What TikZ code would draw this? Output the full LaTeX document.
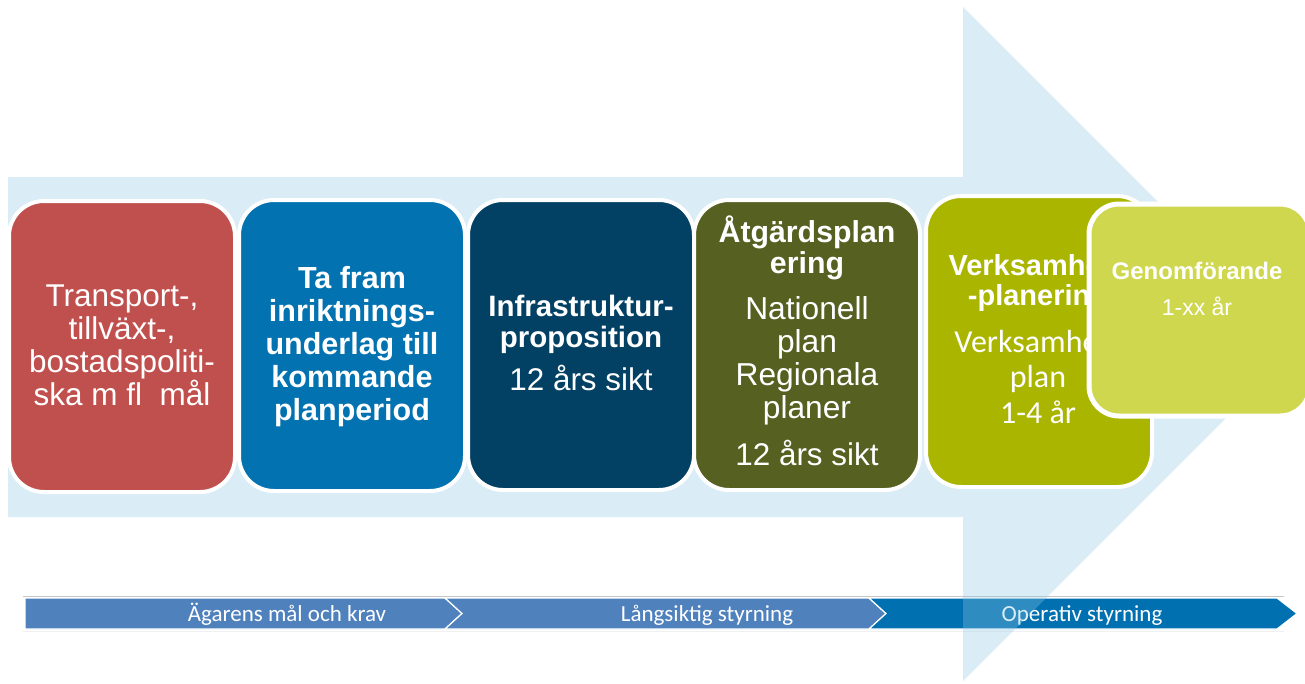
\documentclass[tikz,border=0pt]{standalone}
\usepackage{fontspec}
\setmainfont{Liberation Sans}
\newfontfamily\calib{Carlito}
\definecolor{arrowc}{RGB}{143,200,230}
\definecolor{cred}{RGB}{192,80,77}
\definecolor{cblue}{RGB}{3,114,176}
\definecolor{cnavy}{RGB}{2,64,100}
\definecolor{colive}{RGB}{85,96,33}
\definecolor{cgreen}{RGB}{170,181,0}
\definecolor{clime}{RGB}{207,215,79}
\definecolor{chevA}{RGB}{79,129,189}
\definecolor{chevB}{RGB}{0,112,176}
\begin{document}
\begin{tikzpicture}[x=1pt,y=-1pt,
  box/.style={draw=white, line width=4pt, rounded corners=35pt, inner sep=0pt, outer sep=0pt},
  lbl/.style={text=white, anchor=base, align=center, inner sep=0pt},
  chev/.style={draw=white, line width=1.2pt, line join=miter},
  chevtext/.style={text=white, anchor=base, inner sep=0pt, font=\calib\fontsize{23}{26}\selectfont}]
\useasboundingbox (0,0) rectangle (1305,683);
\fill[white] (0,0) rectangle (1305,683);
% bottom chevron bar
\draw[gray!45, line width=1pt] (23,596) -- (1284,596);
\draw[gray!12, line width=1pt] (23,631) -- (1284,631);
\path[chev, fill=chevA] (25,598) -- (445,598) -- (462,613.5) -- (445,629) -- (25,629) -- cycle;
\path[chev, fill=chevA] (445,598) -- (869,598) -- (886,613.5) -- (869,629) -- (445,629) -- (462,613.5) -- cycle;
\path[chev, fill=chevB] (869,598) -- (1277,598) -- (1297,613.5) -- (1277,629) -- (869,629) -- (886,613.5) -- cycle;
\node[chevtext] (c1) at (287,621) {Ägarens mål och krav};
\node[chevtext] (c2) at (707,621) {Långsiktig styrning};
\node[chevtext] (c3) at (1082,621) {Operativ styrning};
% big light arrow
\path[fill=arrowc, fill opacity=0.33] (8,177) -- (963,177) -- (963,7) -- (1300,344) -- (963,681) -- (963,517) -- (8,517) -- cycle;
% boxes
\node[box, fill=cred,   minimum width=226pt, minimum height=291pt] (b1) at (122,346.5) {};
\node[box, fill=cblue,  minimum width=226pt, minimum height=291pt] (b2) at (352,345.5) {};
\node[box, fill=cnavy,  minimum width=226pt, minimum height=290pt] (b3) at (581,345) {};
\node[box, fill=colive, minimum width=226pt, minimum height=290pt] (b4) at (807,345) {};
\node[box, fill=cgreen, minimum width=226pt, minimum height=291pt] (b5) at (1039,341.5) {};
% texts (base = baseline of the last line)
\node[lbl, font=\fontsize{31.5}{33}\selectfont] (t1) at (122,405) {Transport-,\\tillväxt-,\\bostadspoliti-\\ska m fl\ \ mål};
\node[lbl, font=\bfseries\fontsize{30.5}{33}\selectfont] (t2) at (352,420) {Ta fram\\inriktnings-\\underlag till\\kommande\\planperiod};
\node[lbl, font=\bfseries\fontsize{29.5}{31}\selectfont] (t3a) at (581,347) {Infrastruktur-\\proposition};
\node[lbl, font=\fontsize{31.4}{33}\selectfont] (t3b) at (581,390) {12 års sikt};
\node[lbl, font=\bfseries\fontsize{30.3}{31}\selectfont] (t4a) at (807,273) {Åtgärdsplan\\ering};
\node[lbl, font=\fontsize{31.7}{33}\selectfont] (t4b) at (807,418) {Nationell\\plan\\Regionala\\planer};
\node[lbl, font=\fontsize{31.4}{33}\selectfont] (t4c) at (807,465) {12 års sikt};
\node[lbl, font=\bfseries\fontsize{29}{30}\selectfont] (t5a) at (1038,305) {Verksamhets\\-planering};
\node[lbl, font=\calib\fontsize{32}{35.5}\selectfont] (t5b) at (1038,423) {Verksamhets\\plan\\1-4 år};
% last box on top
\node[box, fill=clime, line width=5pt, rounded corners=30pt, minimum width=221pt, minimum height=212pt] (b6) at (1199.5,310) {};
\node[lbl, font=\bfseries\fontsize{24}{27}\selectfont] (t6a) at (1197,279) {Genomförande};
\node[lbl, font=\fontsize{23}{26}\selectfont] (t6b) at (1197,315) {1-xx år};
\end{tikzpicture}
\end{document}
